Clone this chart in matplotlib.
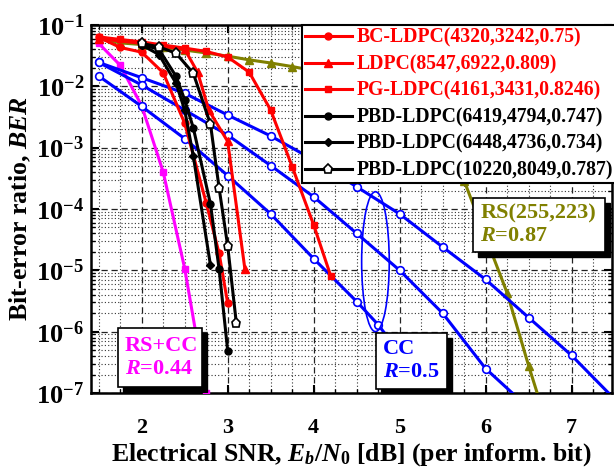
import numpy as np
import matplotlib
matplotlib.use('Agg')
import matplotlib.pyplot as plt
from matplotlib.patches import Rectangle, Ellipse
from matplotlib.ticker import LogLocator, MultipleLocator, NullFormatter, FixedLocator

plt.rcParams['font.family'] = 'Liberation Serif'
plt.rcParams['font.weight'] = 'bold'
plt.rcParams['axes.labelweight'] = 'bold'
plt.rcParams['mathtext.fontset'] = 'custom'
plt.rcParams['mathtext.rm'] = 'Liberation Serif:bold'
plt.rcParams['mathtext.it'] = 'Liberation Serif:italic:bold'
plt.rcParams['mathtext.bf'] = 'Liberation Serif:bold'

# RS(255,223)
rs_x = [1.5, 1.75, 2.0, 2.25, 2.5, 2.75, 3.0, 3.25, 3.5, 3.75, 4.0, 4.5, 5.0, 5.5, 5.75, 6.0, 6.25, 6.5, 6.6]
rs_y = [0.059, 0.051, 0.048, 0.043, 0.039, 0.035, 0.031, 0.027, 0.024, 0.021, 0.018, 0.011,
        4.5e-3, 1.1e-3, 2.9e-4, 3.5e-5, 4.3e-6, 2.8e-7, 1e-7]

# RS+CC
rscc_x = [1.5, 1.75, 2.0, 2.25, 2.5, 2.75]
rscc_y = [0.05, 0.022, 4.8e-3, 4e-4, 1.07e-5, 1e-7]

# CC R=0.5, three curves
cc1_x = [1.5, 2.0, 2.5, 3.0, 3.5, 4.0, 4.5, 5.0, 5.5, 6.0, 6.5, 7.0, 7.43]
cc1_y = [0.0245, 0.0138, 7.7e-3, 3.4e-3, 1.55e-3, 6.3e-4, 2.3e-4, 8.3e-5, 2.4e-5, 7.1e-6, 1.7e-6, 4.1e-7, 1e-7]
cc2_x = [1.5, 2.0, 2.5, 3.0, 3.5, 4.0, 4.5, 5.0, 5.5, 6.0, 6.31]
cc2_y = [0.0245, 0.0105, 4.1e-3, 1.6e-3, 5.1e-4, 1.58e-4, 4e-5, 1e-5, 2.0e-6, 2.5e-7, 1e-7]
cc3_x = [1.5, 2.0, 2.5, 3.0, 3.5, 4.0, 4.5, 4.75, 5.0]
cc3_y = [0.0147, 4.7e-3, 1.4e-3, 3.5e-4, 8.3e-5, 1.55e-5, 3.1e-6, 1.3e-6, 4.5e-7]

# LDPC codes
bc_x = [1.5, 1.75, 2.0, 2.25, 2.5, 2.75, 2.9, 3.0]
bc_y = [0.063, 0.043, 0.036, 0.0166, 2.5e-3, 1.26e-4, 1.9e-5, 2.9e-6]
ldpc_x = [1.5, 2.0, 2.5, 2.65, 2.78, 3.0, 3.2]
ldpc_y = [0.060, 0.050, 0.040, 0.017, 4.1e-3, 1.26e-3, 1.05e-5]
pg_x = [1.5, 1.75, 2.0, 2.25, 2.5, 2.75, 3.0, 3.25, 3.5, 3.75, 4.0, 4.2]
pg_y = [0.064, 0.058, 0.053, 0.047, 0.042, 0.037, 0.030, 0.0170, 4.1e-3, 4.9e-4, 5.5e-5, 8e-6]
pbd1_x = [2.0, 2.2, 2.4, 2.5, 2.6, 2.8, 2.9, 3.0]
pbd1_y = [0.048, 0.040, 0.0145, 6e-3, 2.1e-3, 1.2e-4, 1.05e-5, 4.9e-7]
pbd2_x = [2.0, 2.2, 2.4, 2.5, 2.6, 2.8]
pbd2_y = [0.047, 0.033, 0.0112, 4.1e-3, 7.3e-4, 1.2e-5]
pbd3_x = [2.0, 2.2, 2.4, 2.6, 2.8, 2.9, 3.0, 3.1]
pbd3_y = [0.050, 0.044, 0.0345, 0.0163, 2.4e-3, 2.2e-4, 2.5e-5, 1.4e-6]

labels = ['BC-LDPC(4320,3242,0.75)', 'LDPC(8547,6922,0.809)', 'PG-LDPC(4161,3431,0.8246)',
          'PBD-LDPC(6419,4794,0.747)', 'PBD-LDPC(6448,4736,0.734)', 'PBD-LDPC(10220,8049,0.787)']

red, olive, blue, magenta = '#ff0000', '#808000', '#0000ff', '#ff00ff'

fig = plt.figure(figsize=(6.14, 4.72), dpi=100)
ax = fig.add_axes([0.1482, 0.1674, 0.8485, 0.7797])

lw = 2.2
ax.plot(rs_x, rs_y, color=olive, lw=lw, marker='^', ms=6, markevery=slice(0, -1), zorder=3)
ax.plot(rscc_x, rscc_y, color=magenta, lw=lw, marker='s', ms=5, zorder=3)
for xs, ys in [(cc1_x, cc1_y), (cc2_x, cc2_y), (cc3_x, cc3_y)]:
    ax.plot(xs, ys, color=blue, lw=lw, marker='o', ms=5.5, mfc='white', mec=blue, mew=1.2,
            markevery=slice(0, -1), zorder=3)

h = []
h += ax.plot(bc_x, bc_y, color=red, lw=lw, marker='o', ms=5, zorder=4)
h += ax.plot(ldpc_x, ldpc_y, color=red, lw=lw, marker='^', ms=6, zorder=4)
h += ax.plot(pg_x, pg_y, color=red, lw=lw, marker='s', ms=5, zorder=4)
h += ax.plot(pbd1_x, pbd1_y, color='k', lw=lw, marker='o', ms=5, zorder=4)
h += ax.plot(pbd2_x, pbd2_y, color='k', lw=lw, marker='D', ms=4.5, zorder=4)
h += ax.plot(pbd3_x, pbd3_y, color='k', lw=lw, marker='p', ms=6.5, mfc='white', mec='k', mew=1.2, zorder=4)

ax.set_yscale('log')
ax.set_xlim(1.41, 7.47)
ax.set_ylim(1e-7, 1e-1)
ax.xaxis.set_major_locator(FixedLocator([2, 3, 4, 5, 6, 7]))
ax.xaxis.set_minor_locator(MultipleLocator(0.25))
ax.yaxis.set_major_locator(LogLocator(base=10, numticks=10))
ax.yaxis.set_minor_locator(LogLocator(base=10, subs=np.arange(2, 10), numticks=20))
ax.yaxis.set_minor_formatter(NullFormatter())

ax.grid(which='major', linestyle=(0, (5, 3)), color='#222222', lw=0.9, zorder=0)
ax.grid(which='minor', linestyle=(0, (1, 2)), color='#333333', lw=0.8, zorder=0)
ax.tick_params(which='both', direction='in', top=True, right=True)
ax.tick_params(which='major', length=6, width=1.5)
ax.tick_params(which='minor', length=3, width=1)
ax.tick_params(axis='x', labelsize=16, pad=18)
ax.tick_params(axis='y', labelsize=19, pad=5)
for s in ax.spines.values():
    s.set_linewidth(1.8)

ax.set_xlabel(r'Electrical SNR, $\mathit{E}_{b}/\mathit{N}_{\mathrm{0}}$ [dB] (per inform. bit)',
              fontsize=18.5, labelpad=2)
ax.set_ylabel(r'Bit-error ratio, $\mathit{BER}$', fontsize=18.5, labelpad=2)

leg = ax.legend(h, labels, loc='upper left', bbox_to_anchor=(0.4044, 1.0), borderaxespad=0,
                fontsize=14.2, handlelength=2.4, handletextpad=0.25, borderpad=0.15,
                labelspacing=0.33, fancybox=False, framealpha=1, edgecolor='k')
leg.get_frame().set_linewidth(1.5)
leg.set_zorder(10)
for t, c in zip(leg.get_texts(), [red, red, red, 'k', 'k', 'k']):
    t.set_color(c)


def boxed(x0, y0, x1, y1, text, color):
    ax.add_patch(Rectangle((x0 + 0.0096, y0 - 0.014), x1 - x0, y1 - y0, transform=ax.transAxes,
                           fc='k', ec='k', zorder=6))
    ax.add_patch(Rectangle((x0, y0), x1 - x0, y1 - y0, transform=ax.transAxes,
                           fc='white', ec='k', lw=1.2, zorder=7))
    ax.text(x0 + 0.013, (y0 + y1) / 2, text, transform=ax.transAxes, color=color,
            fontsize=16, va='center', ha='left', zorder=8, linespacing=1.15)


boxed(0.0524, 0.017, 0.2125, 0.176, 'RS+CC\n$\\mathit{R}$=0.44', magenta)
boxed(0.547, 0.012, 0.684, 0.164, 'CC\n$\\mathit{R}$=0.5', blue)
boxed(0.734, 0.384, 0.9866, 0.529, 'RS(255,223)\n$\\mathit{R}$=0.87', olive)

ax.add_patch(Ellipse((0.546, 0.3568), 0.053, 0.380, transform=ax.transAxes,
                     fill=False, ec=blue, lw=1.2, zorder=5))

fig.savefig('out.png', dpi=100)
